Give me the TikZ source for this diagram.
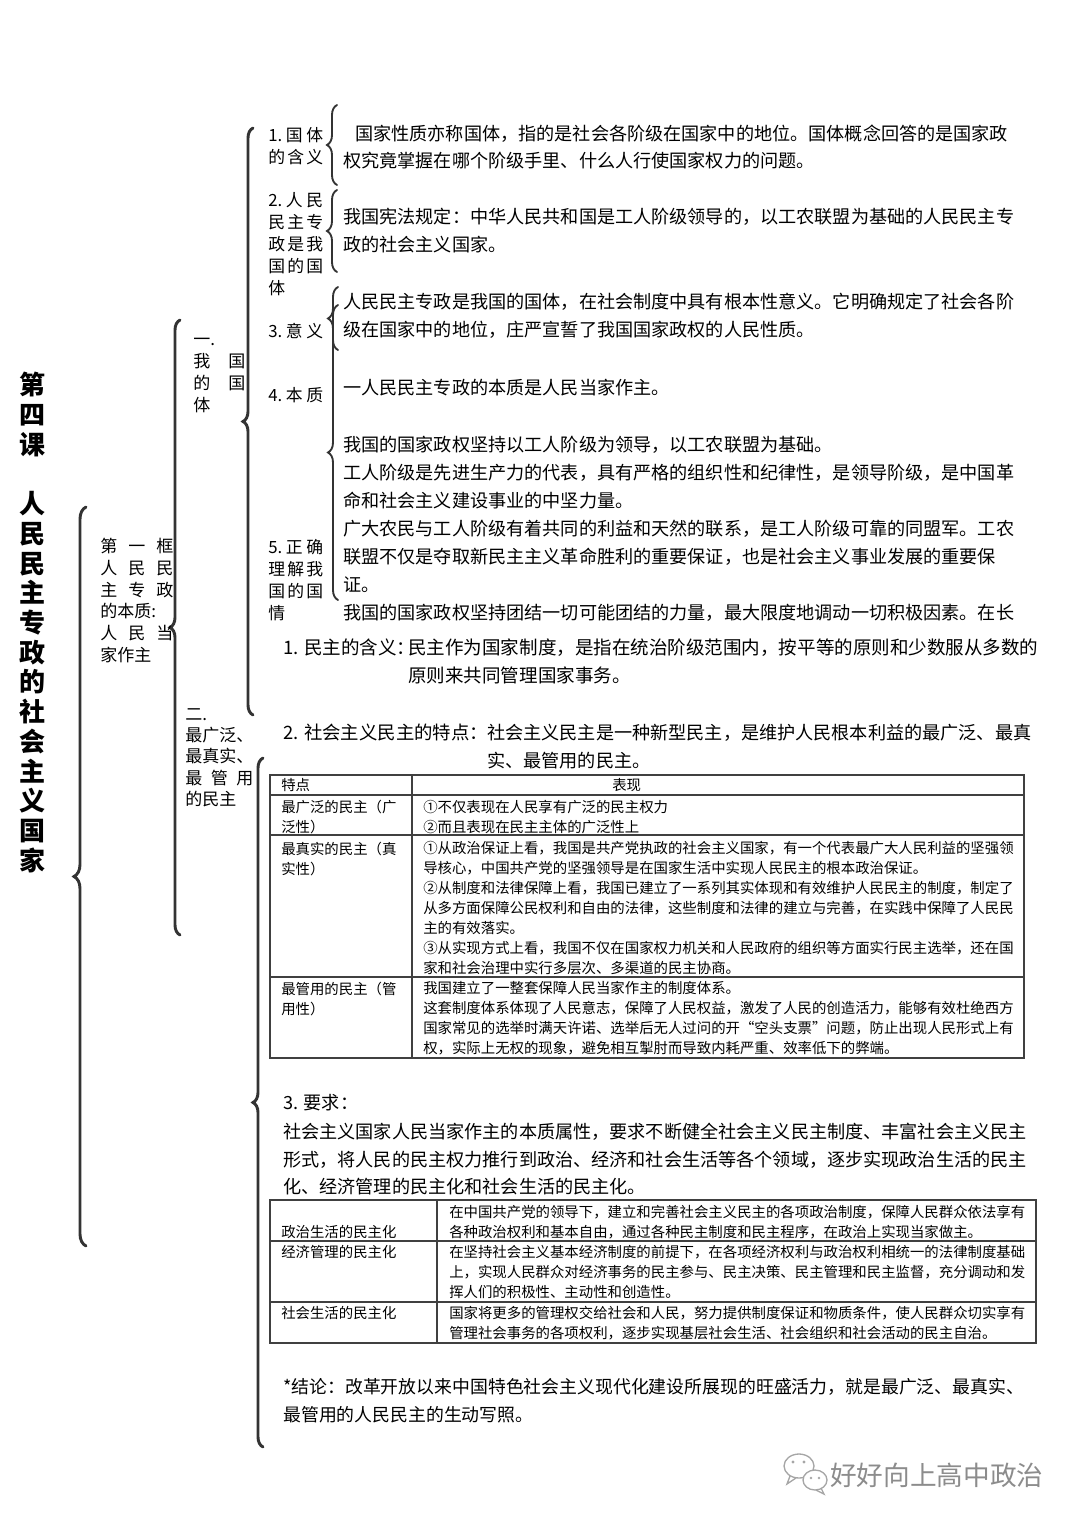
\documentclass[tikz,border=0pt]{standalone}
\usepackage{fontspec}
\setmainfont{Noto Sans CJK SC}
\usepackage{xcolor}
\usepackage{tikz}
\usetikzlibrary{decorations.pathreplacing}

\begin{document}
\begin{tikzpicture}[x=0.75pt,y=0.75pt,yscale=-1,xscale=1,
  bigbrace/.style={decorate,decoration={brace,amplitude=#1},line width=2.2pt,draw=black!80,line cap=round},
  smallbrace/.style={decorate,decoration={brace,amplitude=7.5pt},line width=1.4pt,draw=black!80,line cap=round},
  body/.style={anchor=west,inner sep=0pt,align=left,font=\fontsize{13.6pt}{21pt}\selectfont},
  cell/.style={anchor=west,inner sep=0pt,align=left,font=\fontsize{10.8pt}{15pt}\selectfont},
  sidelbl/.style={anchor=west,inner sep=0pt,align=left,text width=#1,font=\fontsize{12.75pt}{16.4pt}\selectfont},
  itemlbl/.style={anchor=west,inner sep=0pt,align=left,text width=41.25pt,font=\fontsize{12.6pt}{16.5pt}\selectfont},
  grid/.style={line width=0.9pt,draw=black!75}]
%set diagram to the page size
\path [use as bounding box] (0,0) rectangle (1080,1527);

%Brace ends
\coordinate (b1bot) at (86,1246);
\coordinate (b1top) at (86,507);
\coordinate (b2bot) at (180,935);
\coordinate (b2top) at (180,320);
\coordinate (b3bot) at (253,715);
\coordinate (b3top) at (253,128);
\coordinate (b4bot) at (263,1447);
\coordinate (b4top) at (263,758);
\coordinate (bAbot) at (337,185);
\coordinate (bAtop) at (337,105);
\coordinate (bBbot) at (337,272);
\coordinate (bBtop) at (337,190);
\coordinate (bCbot) at (338,350);
\coordinate (bCtop) at (338,287);
\coordinate (bDbot) at (338,600);
\coordinate (bDtop) at (338,305);

%Braces
\draw [bigbrace=9pt] (b1bot) -- (b1top) ;
\draw [bigbrace=7.5pt] (b2bot) -- (b2top) ;
\draw [bigbrace=7.5pt] (b3bot) -- (b3top) ;
\draw [bigbrace=7.5pt] (b4bot) -- (b4top) ;
\draw [smallbrace] (bAbot) -- (bAtop) ;
\draw [smallbrace] (bBbot) -- (bBtop) ;
\draw [smallbrace] (bCbot) -- (bCtop) ;
\draw [smallbrace] (bDbot) -- (bDtop) ;

% Text Node
\node (lesson) at (32,622.5) [inner sep=0pt,align=center,font=\fontsize{19.5pt}{22.3pt}\selectfont\bfseries] {第\\四\\课\\[22.3pt]人\\民\\民\\主\\专\\政\\的\\社\\会\\主\\义\\国\\家};
% Text Node
\node (frame) at (100,600.5) [sidelbl=54.75pt] {第\hfill 一\hfill 框\\人\hfill 民\hfill 民\\主\hfill 专\hfill 政\\的本质:\\人\hfill 民\hfill 当\\家作主};
% Text Node
\node (secone) at (193,375.5) [sidelbl=39pt] {一.\\我\hfill 国\\的\hfill 国\\体};
% Text Node
\node (sectwo) at (185,757.5) [sidelbl=51pt,font=\fontsize{12.75pt}{16pt}\selectfont] {二.\\最广泛、\\最真实、\\最\hfill 管\hfill 用\\的民主};

% Text Node
\node (itemA) at (268,146) [itemlbl] {1.\hfill 国\hfill 体\\的\hfill 含\hfill 义};
% Text Node
\node (itemB) at (268,244) [itemlbl] {2.\hfill 人\hfill 民\\民\hfill 主\hfill 专\\政\hfill 是\hfill 我\\国\hfill 的\hfill 国\\体};
% Text Node
\node (itemC) at (268,331) [itemlbl] {3.\hfill 意\hfill 义};
% Text Node
\node (itemD) at (268,395) [itemlbl] {4.\hfill 本\hfill 质};
% Text Node
\node (itemE) at (268,580.5) [itemlbl] {5.\hfill 正\hfill 确\\理\hfill 解\hfill 我\\国\hfill 的\hfill 国\\情};

% Text Node
\node (textA) at (343,146.5) [body,font=\fontsize{13.6pt}{20.25pt}\selectfont] {\hspace*{9pt}国家性质亦称国体，指的是社会各阶级在国家中的地位。国体概念回答的是国家政\\权究竟掌握在哪个阶级手里、什么人行使国家权力的问题。};
% Text Node
\node (textB) at (343,231) [body] {我国宪法规定：中华人民共和国是工人阶级领导的，以工农联盟为基础的人民民主专\\政的社会主义国家。};
% Text Node
\node (textC) at (343,316) [body] {人民民主专政是我国的国体，在社会制度中具有根本性意义。它明确规定了社会各阶\\级在国家中的地位，庄严宣誓了我国国家政权的人民性质。};
% Text Node
\node (textD) at (343,388) [body] {一人民民主专政的本质是人民当家作主。};
% Text Node
\node (textE) at (343,529) [body] {我国的国家政权坚持以工人阶级为领导，以工农联盟为基础。\\工人阶级是先进生产力的代表，具有严格的组织性和纪律性，是领导阶级，是中国革\\命和社会主义建设事业的中坚力量。\\广大农民与工人阶级有着共同的利益和天然的联系，是工人阶级可靠的同盟军。工农\\联盟不仅是夺取新民主主义革命胜利的重要保证，也是社会主义事业发展的重要保\\证。\\我国的国家政权坚持团结一切可能团结的力量，最大限度地调动一切积极因素。在长};

% Text Node
\node (demoA) at (283,647) [body,font=\fontsize{13.9pt}{21pt}\selectfont] {1. 民主的含义：};
% Text Node
\node (demoAtext) at (408,661) [body,font=\fontsize{13.9pt}{21pt}\selectfont] {民主作为国家制度，是指在统治阶级范围内，按平等的原则和少数服从多数的\\原则来共同管理国家事务。};
% Text Node
\node (demoB) at (283,733) [body,font=\fontsize{13.8pt}{21pt}\selectfont] {2. 社会主义民主的特点：};
% Text Node
\node (demoBtext) at (487,747) [body,font=\fontsize{13.6pt}{21pt}\selectfont] {社会主义民主是一种新型民主，是维护人民根本利益的最广泛、最真\\实、最管用的民主。};

%Shape: Table 1
\draw [grid] (270,775) rectangle (1024,1058) ;
\draw [grid] (270,795) -- (1024,795) (270,835) -- (1024,835) (270,977) -- (1024,977) (412,775) -- (412,1058) ;
% Text Node
\node (headA) at (281,785) [cell] {特点};
% Text Node
\node (headB) at (612,785) [cell] {表现};
% Text Node
\node (rowAl) at (281,817) [cell] {最广泛的民主（广\\泛性）};
% Text Node
\node (rowAr) at (423,817) [cell] {①不仅表现在人民享有广泛的民主权力\\②而且表现在民主主体的广泛性上};
% Text Node
\node (rowBl) at (281,859) [cell] {最真实的民主（真\\实性）};
% Text Node
\node (rowBr) at (423,908) [cell] {①从政治保证上看，我国是共产党执政的社会主义国家，有一个代表最广大人民利益的坚强领\\导核心，中国共产党的坚强领导是在国家生活中实现人民民主的根本政治保证。\\②从制度和法律保障上看，我国已建立了一系列其实体现和有效维护人民民主的制度，制定了\\从多方面保障公民权利和自由的法律，这些制度和法律的建立与完善，在实践中保障了人民民\\主的有效落实。\\③从实现方式上看，我国不仅在国家权力机关和人民政府的组织等方面实行民主选举，还在国\\家和社会治理中实行多层次、多渠道的民主协商。};
% Text Node
\node (rowCl) at (281,999) [cell] {最管用的民主（管\\用性）};
% Text Node
\node (rowCr) at (423,1018.5) [cell] {我国建立了一整套保障人民当家作主的制度体系。\\这套制度体系体现了人民意志，保障了人民权益，激发了人民的创造活力，能够有效杜绝西方\\国家常见的选举时满天许诺、选举后无人过问的开“空头支票”问题，防止出现人民形式上有\\权，实际上无权的现象，避免相互掣肘而导致内耗严重、效率低下的弊端。};

% Text Node
\node (needs) at (283,1103) [body] {3. 要求：};
% Text Node
\node (needstext) at (283,1159.5) [body,font=\fontsize{13.6pt}{20.6pt}\selectfont] {社会主义国家人民当家作主的本质属性，要求不断健全社会主义民主制度、丰富社会主义民主\\形式，将人民的民主权力推行到政治、经济和社会生活等各个领域，逐步实现政治生活的民主\\化、经济管理的民主化和社会生活的民主化。};

%Shape: Table 2
\draw [grid] (270,1200) rectangle (1036,1343) ;
\draw [grid] (270,1241) -- (1036,1241) (270,1302) -- (1036,1302) (437,1200) -- (437,1343) ;
% Text Node
\node (polL) at (281,1232) [cell] {政治生活的民主化};
% Text Node
\node (polR) at (449,1222) [cell] {在中国共产党的领导下，建立和完善社会主义民主的各项政治制度，保障人民群众依法享有\\各种政治权利和基本自由，通过各种民主制度和民主程序，在政治上实现当家做主。};
% Text Node
\node (ecoL) at (281,1252) [cell] {经济管理的民主化};
% Text Node
\node (ecoR) at (449,1272) [cell] {在坚持社会主义基本经济制度的前提下，在各项经济权利与政治权利相统一的法律制度基础\\上，实现人民群众对经济事务的民主参与、民主决策、民主管理和民主监督，充分调动和发\\挥人们的积极性、主动性和创造性。};
% Text Node
\node (socL) at (281,1313) [cell] {社会生活的民主化};
% Text Node
\node (socR) at (449,1323) [cell] {国家将更多的管理权交给社会和人民，努力提供制度保证和物质条件，使人民群众切实享有\\管理社会事务的各项权利，逐步实现基层社会生活、社会组织和社会活动的民主自治。};

% Text Node
\node (summary) at (283,1401) [body,font=\fontsize{13.4pt}{21pt}\selectfont] {*结论：改革开放以来中国特色社会主义现代化建设所展现的旺盛活力，就是最广泛、最真实、\\最管用的人民民主的生动写照。};

%Shape: WeChat mark
\draw [line width=1pt,draw=black!35,fill=white] (799,1466) ellipse [x radius=15,y radius=12] ;
\draw [line width=1pt,draw=black!35] (790,1476) -- (787,1484) -- (796,1478) ;
\draw [line width=1pt,draw=black!35,fill=white] (815,1480) ellipse [x radius=12,y radius=10] ;
\draw [line width=1pt,draw=black!35] (821,1488) -- (824,1494) -- (816,1490) ;
\fill [black!35] (793,1462) circle (1.6) (804,1462) circle (1.6) (811,1478) circle (1.4) (819,1478) circle (1.4) ;
% Text Node
\node (mark) at (830,1475) [anchor=west,inner sep=0pt,text=black!45,font=\fontsize{20pt}{24pt}\selectfont] {好好向上高中政治};
\end{tikzpicture}
\end{document}
